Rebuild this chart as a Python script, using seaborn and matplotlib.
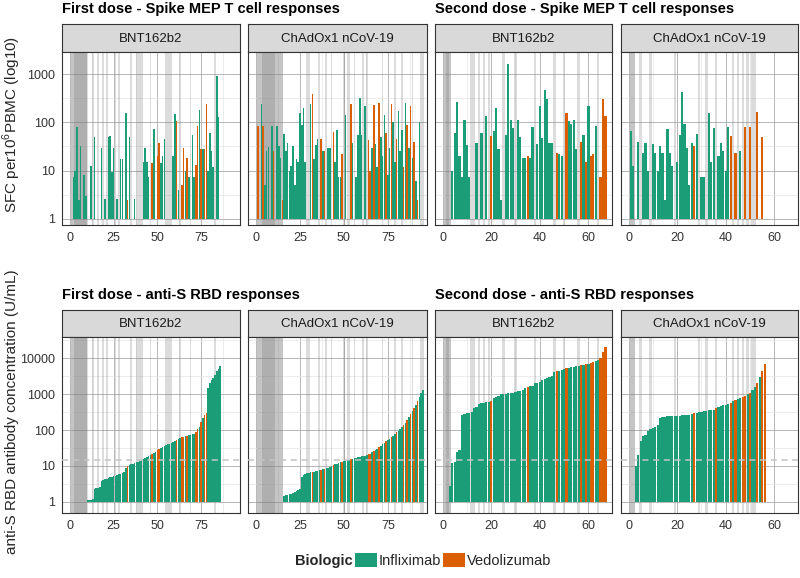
import numpy as np
import pandas as pd
import matplotlib
matplotlib.use("Agg")
import matplotlib.pyplot as plt
import seaborn as sns
from matplotlib.patches import Patch


# ----------------------------------
# Data (participants ordered by antibody level, 1-based index)
# ----------------------------------

biologics = ["Infliximab", "Vedolizumab"]
palette = {"Infliximab": "#1B9E77", "Vedolizumab": "#D95F02"}

# First dose - BNT162b2
first_bnt_tcell = [
    None, 7.5, 10, 80, 2.5, 32, None, 8, 3, None,
    None, 12.5, None, 50, None, None, None, 30, None, 2.6,
    None, 49, 52, 9.5, 30, None, 2.6, None, 17, 17,
    None, 155, 2.5, 50, None, None, 2.6, None, None, None,
    None, 15, 30, 15, 7.5, None, 14.6, 72, None, 20,
    37, 14.6, 20, 45, None, None, None, None, 20, 148,
    107, 4, None, 5, 30, 10, 18, 7.5, None, 55,
    7.5, 13, 84, 180, 28, 28, 28, 246, 10, 59,
    25, 12, None, 910, 130, None,
]
first_bnt_ab = [None] * 9 + [
    1.1, 1.1, 1.15, 1.2, 2.3, 2.4, 2.5, 2.6, 3.8, 4.0,
    4.2, 4.4, 4.6, 4.8, 5.0, 5.2, 5.4, 5.6, 5.8, 6.0,
    6.3, 7.0, 8.5, 10, 10.5, 11, 11.5, 12, 12.5, 13,
    14, 15, 16, 17, 18, 19, 20, 21, 23, 25,
    28, 30, 32, 34, 36, 38, 40, 42, 44, 46,
    48, 52, 58, 60, 63, 66, 68, 70, 72, 74,
    76, 80, 90, 105, 125, 170, 220, 260, 300, 1500,
    2000, 2500, 2800, 3500, 4500, 5000, 5900,
]
first_bnt_vedo = [33, 47, 50, 51, 61, 64, 65, 67, 72, 73, 75, 77, 78]
first_bnt_light = [10, 13, 16, 19, 21, 26, 28, 35, 38, 39, 40, 41, 46,
                   55, 56, 57, 58, 63, 69, 83]
first_bnt_mid = [1, 2]
first_bnt_dark = [3, 4, 5, 6, 7, 8, 9]

# First dose - ChAdOx1 nCoV-19
first_cha_tcell = [
    85, None, 235, 85, 5, 25, 31, None, 84, 25,
    None, 84, 32, 18, 2.5, 56, 25, 37, 10, 12.5,
    32, 5, 17, 15, 155, 88, 195, 15, None, None,
    246, 385, 17, 34, 45, None, 45, 25, 25, None,
    30, 30, None, 62, 15, 69, 7.5, 7.5, 22, None,
    142, None, None, 246, 37, None, 7.5, 55, 315, 55,
    None, 220, None, 43, 10, 29, 230, 35, 12, 250,
    50, 20, 140, 60, 8, 30, 240, 100, 15, 45,
    170, 25, 70, 12, 250, 90, 30, 220, 18, 40,
    6, 2.5, 100, None, None,
]
first_cha_ab = [None] * 15 + [
    1.5, 1.6, 1.6, 1.7, 1.7, 1.8, 1.9, 2.0, 2.1, 2.3,
    5.0, 5.5, 6.0, 6.2, 6.4, 6.6, 6.8, 7.0, 7.2, 7.4,
    7.6, 7.8, 8.0, 8.3, 8.6, 9.0, 9.5, 10, 10.5, 11,
    11.5, 12, 12.5, 13, 13.5, 14, 14.5, 15, 15.5, 16,
    16.5, 17, 17.5, 18, 18.5, 19, 19.5, 20, 21, 22,
    24, 26, 28, 30, 33, 36, 40, 44, 48, 53,
    58, 64, 70, 78, 86, 95, 105, 120, 140, 160,
    190, 230, 280, 330, 400, 500, 650, 850, 1100, 1300,
]
first_cha_vedo = [1, 4, 10, 15, 32, 37, 39, 44, 49, 54, 64, 65, 67, 70,
                  74, 77, 80, 84, 86, 88, 90, 92]
first_cha_light = [29, 30, 36, 40, 43, 50, 52, 53, 56, 61, 63, 72, 79,
                   83, 89, 94, 95]
first_cha_mid = [1, 2, 3, 11, 12, 13, 14, 15]
first_cha_dark = [4, 5, 6, 7, 8, 9, 10]

# Second dose - BNT162b2
second_bnt_tcell = [
    None, None, None, 10, 59, 267, 20, 7.5, 112, 34,
    7.5, None, None, 37, None, 59, None, 135, None, 52,
    66, 200, 28, 2.5, None, 55, 1600, 112, 78, None,
    112, 50, 18.5, 18, 20, 18, 79, None, 35, 218,
    48, 480, 300, 37, 37, None, 23, 22, 20, None,
    158, 107, 91, 112, 28, None, 40, 55, 15, 218,
    20, 22, 84, None, 7.5, 300, 135,
]
second_bnt_ab = [None] * 2 + [
    2.7, 12, 13, 25, 28, 260, 280, 290, 300, 310,
    420, 450, 520, 560, 580, 600, 620, 640, 800, 850,
    900, 980, 1000, 1020, 1050, 1080, 1100, 1150, 1200, 1250,
    1300, 1500, 1600, 1650, 1700, 2000, 2100, 2200, 2400, 2600,
    2800, 3000, 3100, 4000, 4300, 4500, 4700, 4900, 5200, 5400,
    5600, 5800, 6000, 6200, 6400, 6600, 6800, 7000, 7500, 8000,
    8500, 9000, 10000, 15000, 20000,
]
second_bnt_vedo = [20, 35, 47, 51, 57, 59, 61, 62, 65, 66, 67]
second_bnt_light = [12, 13, 15, 17, 19, 25, 30, 38, 46, 50, 56, 64]
second_bnt_mid = [1, 3]
second_bnt_dark = [2]

# Second dose - ChAdOx1 nCoV-19
second_cha_tcell = [
    67, 12.5, None, 40, None, 23, 37, 10, None, 35,
    23, 10, 32, 23, 2.5, 72, 23, 12.5, None, 15,
    55, 417, 91, 29, 5, 37, 32, 56, None, 7.5,
    7.5, None, 155, 15, 75, None, 20, 37, 25, 10,
    79, 52, None, 23, None, 25, None, 79, None, 79,
    None, None, 167, None, 50, None,
]
second_cha_ab = [None] * 2 + [
    10, 20, 50, 70, 75, 95, 105, 115, 125, 140,
    220, 230, 235, 240, 242, 245, 248, 250, 252, 255,
    258, 262, 268, 280, 290, 300, 310, 320, 330, 340,
    350, 360, 370, 420, 450, 470, 490, 510, 540, 570,
    650, 700, 750, 800, 850, 900, 1000, 1100, 1300, 1600,
    2000, 3000, 4500, 7000,
]
second_cha_vedo = [27, 36, 42, 44, 47, 48, 50, 53, 55, 56]
second_cha_light = [5, 9, 19, 29, 32, 36, 43, 45, 47, 49, 51, 52]
second_cha_mid = [1, 2]
second_cha_dark = []

vaccines = ["BNT162b2", "ChAdOx1 nCoV-19"]
antibody_threshold = 15


# ----------------------------------
# Helpers
# ----------------------------------

W, H = 800, 578


def rect(x0, y0, x1, y1):
    return [x0 / W, 1 - y1 / H, (x1 - x0) / W, (y1 - y0) / H]


def build_frame(values, vedo):
    rows = []
    for i, v in enumerate(values, start=1):
        if v is None:
            continue
        rows.append({
            "idx": i,
            "log": np.log10(v),
            "Biologic": "Vedolizumab" if i in vedo else "Infliximab",
        })
    return pd.DataFrame(rows)


def add_strip(x0, x1, y0, y1, label):
    sax = fig.add_axes(rect(x0, y0, x1, y1))
    sax.set_facecolor("#D9D9D9")
    sax.set_xticks([])
    sax.set_yticks([])
    for s in sax.spines.values():
        s.set_color("#333333")
        s.set_linewidth(0.8)
    sax.text(0.5, 0.48, label, ha="center", va="center",
             fontsize=9.5, color="#1A1A1A", transform=sax.transAxes)


def draw_panel(ax, df, light, mid, dark, xlim, xmaj, xmin,
               ylim, ymaj, ymin, ylabels, show_y, threshold=None):
    for idxs, a in ((light, 0.27), (mid, 0.45), (dark, 0.62)):
        for i in idxs:
            ax.axvspan(i - 0.5, i + 0.5, color="#7F7F7F", alpha=a,
                       lw=0, zorder=1)

    sns.barplot(
        data=df, x="idx", y="log", hue="Biologic",
        hue_order=biologics, palette=palette,
        native_scale=True, dodge=False, width=0.9,
        saturation=1, errorbar=None, legend=False,
        orient="x", linewidth=0, zorder=2, ax=ax
    )

    if threshold is not None:
        ax.axhline(np.log10(threshold), color="#C4C4C4",
                   ls=(0, (4, 3)), lw=1.1, zorder=3)

    ax.set_xlim(xlim)
    ax.set_ylim(ylim)
    ax.set_xticks(xmaj)
    ax.set_xticklabels([str(v) for v in xmaj])
    ax.set_xticks(xmin, minor=True)
    ax.set_yticks(ymaj)
    ax.set_yticks(ymin, minor=True)
    ax.set_yticklabels(ylabels)
    ax.set_xlabel("")
    ax.set_ylabel("")
    ax.set_facecolor("white")
    ax.set_axisbelow(True)
    ax.grid(which="major", color="#ABABAB", lw=0.6, zorder=0)
    ax.grid(which="minor", color="#E4E4E4", lw=0.5, zorder=0)
    for s in ax.spines.values():
        s.set_color("#333333")
        s.set_linewidth(0.8)
    ax.tick_params(axis="x", which="major", length=3, width=0.6,
                   color="#333333", labelsize=9,
                   labelcolor="#333333", pad=2)
    ax.tick_params(which="minor", length=0)
    if show_y:
        ax.tick_params(axis="y", which="major", length=3, width=0.6,
                       color="#333333", labelsize=9,
                       labelcolor="#333333", pad=2)
    else:
        ax.tick_params(axis="y", which="major", left=False,
                       labelleft=False)


# ----------------------------------
# Figure
# ----------------------------------

sns.set_style("white")
plt.rcParams["font.family"] = ["Liberation Sans", "DejaVu Sans"]
plt.rcParams["mathtext.fontset"] = "custom"
plt.rcParams["mathtext.rm"] = "Liberation Sans"

fig = plt.figure(figsize=(8, 5.78), dpi=100)

columns = [
    (62, 240, first_bnt_tcell, first_bnt_ab, first_bnt_vedo,
     first_bnt_light, first_bnt_mid, first_bnt_dark, "first", vaccines[0]),
    (248, 427, first_cha_tcell, first_cha_ab, first_cha_vedo,
     first_cha_light, first_cha_mid, first_cha_dark, "first", vaccines[1]),
    (435, 612, second_bnt_tcell, second_bnt_ab, second_bnt_vedo,
     second_bnt_light, second_bnt_mid, second_bnt_dark, "second", vaccines[0]),
    (621, 798, second_cha_tcell, second_cha_ab, second_cha_vedo,
     second_cha_light, second_cha_mid, second_cha_dark, "second", vaccines[1]),
]

x_settings = {
    "first": ((-4.6, 97.3), [0, 25, 50, 75], [12.5, 37.5, 62.5, 87.5]),
    "second": ((-3.1, 69.7), [0, 20, 40, 60], [10, 30, 50]),
}

top_ylim = (-0.13, 3.46)
bottom_ylim = (-0.31, 4.59)

for k, (x0, x1, tcell, ab, vedo, light, mid, dark, dose, vac) in enumerate(columns):
    xlim, xmaj, xmin = x_settings[dose]

    # top row - T cell responses
    add_strip(x0, x1, 24, 52, vac)
    ax_top = fig.add_axes(rect(x0, 52, x1, 225))
    draw_panel(
        ax_top, build_frame(tcell, vedo), light, mid, dark,
        xlim, xmaj, xmin, top_ylim,
        [0, 1, 2, 3], [0.5, 1.5, 2.5],
        ["1", "10", "100", "1000"], show_y=(k == 0)
    )

    # bottom row - antibody responses
    add_strip(x0, x1, 310, 337, vac)
    ax_bot = fig.add_axes(rect(x0, 337, x1, 513))
    draw_panel(
        ax_bot, build_frame(ab, vedo), light, mid, dark,
        xlim, xmaj, xmin, bottom_ylim,
        [0, 1, 2, 3, 4], [0.5, 1.5, 2.5, 3.5, 4.5],
        ["1", "10", "100", "1000", "10000"], show_y=(k == 0),
        threshold=antibody_threshold
    )


# ----------------------------------
# Titles and labels
# ----------------------------------

title_kw = dict(fontsize=10.5, fontweight="bold", color="black",
                ha="left", va="baseline")
fig.text(62 / W, 1 - 13 / H, "First dose - Spike MEP T cell responses", **title_kw)
fig.text(435 / W, 1 - 13 / H, "Second dose - Spike MEP T cell responses", **title_kw)
fig.text(62 / W, 1 - 299 / H, "First dose - anti-S RBD responses", **title_kw)
fig.text(435 / W, 1 - 299 / H, "Second dose - anti-S RBD responses", **title_kw)

fig.text(12 / W, 1 - 124.5 / H, r"SFC per10$^{\mathrm{6}}$PBMC (log10)",
         rotation=90, ha="center", va="center", fontsize=11)
fig.text(12 / W, 1 - 411.5 / H, "anti-S RBD antibody concentration (U/mL)",
         rotation=90, ha="center", va="center", fontsize=11)


# ----------------------------------
# Legend
# ----------------------------------

handles = [
    Patch(facecolor=palette[b], edgecolor="none", label=b)
    for b in biologics
]
fig.legend(
    handles=handles, loc="center left",
    bbox_to_anchor=(355 / W, 1 - 560.5 / H),
    ncol=2, frameon=False, fontsize=10.5,
    handlelength=1.5, handleheight=1.15,
    handletextpad=0.15, columnspacing=0.1,
    borderpad=0, borderaxespad=0
)
fig.text(353 / W, 1 - 560.5 / H, "Biologic", ha="right", va="center",
         fontsize=10.5, fontweight="bold")

fig.savefig("out.png", dpi=100)
